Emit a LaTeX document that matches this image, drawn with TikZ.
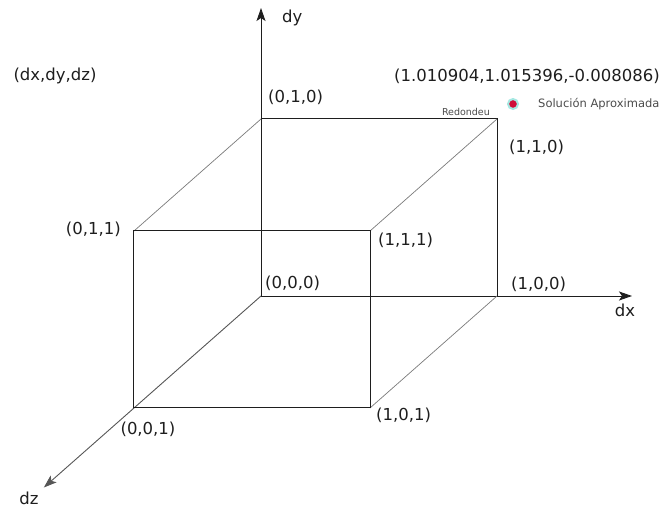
\documentclass[tikz,border=0pt]{standalone}
\usepackage{fontspec}
\setmainfont{DejaVu Sans}
\usepackage{tikz}
\usetikzlibrary{arrows.meta,positioning}
\definecolor{CubeInk}{HTML}{1E1E1E}
\definecolor{CubeGray}{HTML}{7A7A7A}
\definecolor{CubeRed}{HTML}{D0103A}
\definecolor{CubeTeal}{HTML}{A6E8E2}

\begin{document}
\begin{tikzpicture}[x={(236pt,0)},y={(0,177pt)},z={(-127pt,-112pt)},
    edge/.style={CubeInk,line width=1pt},
    backedge/.style={CubeGray,line width=0.7pt},
    axis/.style={-{Stealth[length=13pt,width=9pt,inset=3pt]},CubeInk,line width=0.9pt},
    lbl/.style={CubeInk,inner sep=0pt,font=\fontsize{16.5}{19}\selectfont},
    tiny/.style={CubeInk!80,inner sep=0pt,font=\fontsize{10}{12}\selectfont}]
  \useasboundingbox (-261pt,-214pt) rectangle (405pt,296pt);
  % corners of the unit cube
  \coordinate (c000) at (0,0,0);
  \coordinate (c100) at (1,0,0);
  \coordinate (c010) at (0,1,0);
  \coordinate (c110) at (1,1,0);
  \coordinate (c001) at (0,0,1);
  \coordinate (c101) at (1,0,1);
  \coordinate (c011) at (0,1,1);
  \coordinate (c111) at (1,1,1);
  \coordinate (dxtip) at (1.572,0,0);
  \coordinate (dytip) at (0,1.627,0);
  \coordinate (dztip) at (0,0,1.71);
  % axes
  \draw[axis] (c000) -- (dxtip);
  \draw[axis] (c000) -- (dytip);
  \draw[axis,CubeInk!75] (c000) -- (dztip);
  % back and receding edges
  \draw[edge] (c010) -- (c110) -- (c100);
  \draw[backedge] (c010) -- (c011);
  \draw[backedge] (c110) -- (c111);
  \draw[backedge] (c100) -- (c101);
  % front face
  \draw[edge] (c011) -- (c111) -- (c101) -- (c001) -- cycle;
  % labels
  \node[lbl,right=21pt of dytip,yshift=-10pt] (ldy) {dy};
  \node[lbl,below=8pt of dxtip,xshift=-7pt] (ldx) {dx};
  \node[lbl,below left=4pt and 5pt of dztip] (ldz) {dz};
  \node[lbl] (ltrip) at (-206pt,220pt) {(dx,dy,dz)};
  \node[lbl,above right=14pt and 7pt of c010] (l010) {(0,1,0)};
  \node[lbl,below right=21pt and 12pt of c110] (l110) {(1,1,0)};
  \node[lbl,left=13pt of c011,yshift=2pt] (l011) {(0,1,1)};
  \node[lbl,below right=2pt and 8pt of c111] (l111) {(1,1,1)};
  \node[lbl,above right=5pt and 4pt of c000] (l000) {(0,0,0)};
  \node[lbl,above right=4pt and 14pt of c100] (l100) {(1,0,0)};
  \node[lbl,below=14pt of c001,xshift=14pt] (l001) {(0,0,1)};
  \node[lbl,below right=0pt and 6pt of c101] (l101) {(1,0,1)};
  \node[lbl,above=35pt of c110,xshift=30pt] (lsol) {(1.010904,1.015396,-0.008086)};
  \node[tiny,font=\fontsize{9.5}{11}\selectfont,above left=3pt and 7pt of c110] (lred) {Redondeu};
  \node[circle,fill=CubeRed,draw=CubeTeal,line width=2pt,inner sep=0pt,minimum size=10pt]
    (soldot) at ([shift={(16pt,15pt)}]c110) {};
  \node[tiny,font=\fontsize{11.5}{13}\selectfont,right=19pt of soldot] (lapx) {Solución Aproximada};
\end{tikzpicture}
\end{document}
